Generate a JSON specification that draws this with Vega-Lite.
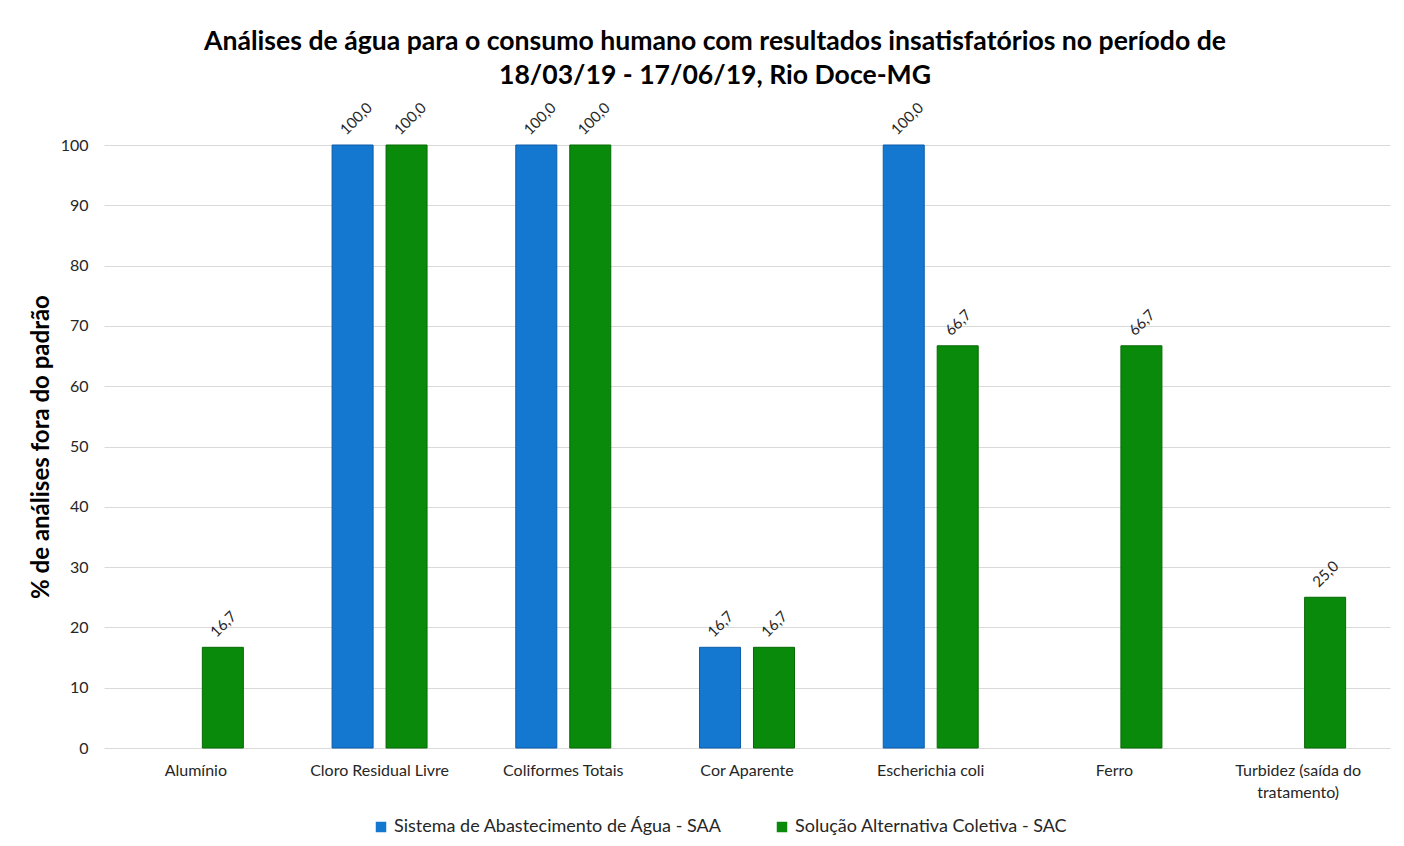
{
  "$schema": "https://vega.github.io/schema/vega-lite/v6.json",
  "width": 1286,
  "height": 603,
  "autosize": {"type": "none"},
  "padding": {"left": 104, "top": 145, "right": 14, "bottom": 98},
  "background": "white",
  "config": {
    "font": "Lato",
    "locale": {"number": {"decimal": ",", "thousands": ".", "grouping": [3], "currency": ["R$", ""]}},
    "view": {"stroke": null}
  },
  "title": {
    "text": ["Análises de água para o consumo humano com resultados insatisfatórios no período de", "18/03/19 - 17/06/19, Rio Doce-MG"],
    "font": "Lato",
    "fontSize": 26.6,
    "fontWeight": "bold",
    "color": "#000000",
    "anchor": "middle",
    "dx": -32,
    "lineHeight": 34,
    "offset": 11
  },
  "data": {
    "values": [
      {"categoria": "Alumínio", "sistema": "Sistema de Abastecimento de Água - SAA", "valor": null},
      {"categoria": "Alumínio", "sistema": "Solução Alternativa Coletiva - SAC", "valor": 16.7},
      {"categoria": "Cloro Residual Livre", "sistema": "Sistema de Abastecimento de Água - SAA", "valor": 100},
      {"categoria": "Cloro Residual Livre", "sistema": "Solução Alternativa Coletiva - SAC", "valor": 100},
      {"categoria": "Coliformes Totais", "sistema": "Sistema de Abastecimento de Água - SAA", "valor": 100},
      {"categoria": "Coliformes Totais", "sistema": "Solução Alternativa Coletiva - SAC", "valor": 100},
      {"categoria": "Cor Aparente", "sistema": "Sistema de Abastecimento de Água - SAA", "valor": 16.7},
      {"categoria": "Cor Aparente", "sistema": "Solução Alternativa Coletiva - SAC", "valor": 16.7},
      {"categoria": "Escherichia coli", "sistema": "Sistema de Abastecimento de Água - SAA", "valor": 100},
      {"categoria": "Escherichia coli", "sistema": "Solução Alternativa Coletiva - SAC", "valor": 66.7},
      {"categoria": "Ferro", "sistema": "Sistema de Abastecimento de Água - SAA", "valor": null},
      {"categoria": "Ferro", "sistema": "Solução Alternativa Coletiva - SAC", "valor": 66.7},
      {"categoria": "Turbidez (saída do tratamento)", "sistema": "Sistema de Abastecimento de Água - SAA", "valor": null},
      {"categoria": "Turbidez (saída do tratamento)", "sistema": "Solução Alternativa Coletiva - SAC", "valor": 25}
    ]
  },
  "encoding": {
    "x": {
      "field": "categoria",
      "type": "nominal",
      "sort": null,
      "scale": {"paddingInner": 0.483, "paddingOuter": 0.2415},
      "axis": {
        "title": null,
        "labelAngle": 0,
        "labelFontSize": 16,
        "labelColor": "#262626",
        "labelPadding": 14,
        "labelLineHeight": 22,
        "labelLimit": 300,
        "ticks": false,
        "domain": false,
        "labelExpr": "datum.label == 'Turbidez (saída do tratamento)' ? ['Turbidez (saída do', 'tratamento)'] : datum.label"
      }
    },
    "xOffset": {
      "field": "sistema",
      "type": "nominal",
      "scale": {"paddingInner": 0.24, "paddingOuter": 0}
    },
    "y": {
      "field": "valor",
      "type": "quantitative",
      "scale": {"domain": [0, 100], "nice": false},
      "axis": {
        "title": "% de análises fora do padrão",
        "titleFontSize": 24,
        "titleFontWeight": "bold",
        "titleColor": "#000000",
        "titlePadding": 7,
        "values": [0, 10, 20, 30, 40, 50, 60, 70, 80, 90, 100],
        "labelFontSize": 16,
        "labelColor": "#262626",
        "labelPadding": 16,
        "ticks": false,
        "domain": false,
        "gridColor": "#d9d9d9",
        "gridWidth": 1
      }
    }
  },
  "layer": [
    {
      "mark": {"type": "bar", "strokeWidth": 1},
      "encoding": {
        "color": {
          "field": "sistema",
          "type": "nominal",
          "scale": {
            "domain": ["Sistema de Abastecimento de Água - SAA", "Solução Alternativa Coletiva - SAC"],
            "range": ["#1477d0", "#0a8a0a"]
          },
          "legend": {
            "title": null,
            "orient": "none",
            "legendX": 268,
            "legendY": 673,
            "direction": "horizontal",
            "symbolType": "square",
            "symbolSize": 110,
            "symbolStrokeWidth": 0,
            "labelFontSize": 18,
            "labelLimit": 0,
            "labelColor": "#262626",
            "columnPadding": 50,
            "labelOffset": 4
          }
        },
        "stroke": {
          "field": "sistema",
          "type": "nominal",
          "scale": {
            "domain": ["Sistema de Abastecimento de Água - SAA", "Solução Alternativa Coletiva - SAC"],
            "range": ["#0d5da8", "#066a06"]
          },
          "legend": null
        }
      }
    },
    {
      "transform": [{"filter": "datum.valor != null"}],
      "mark": {"type": "text", "angle": -45, "align": "left", "baseline": "middle", "dx": 2, "dy": -16, "fontSize": 15, "color": "#262626"},
      "encoding": {
        "text": {"field": "valor", "type": "quantitative", "format": ".1f"}
      }
    }
  ]
}
